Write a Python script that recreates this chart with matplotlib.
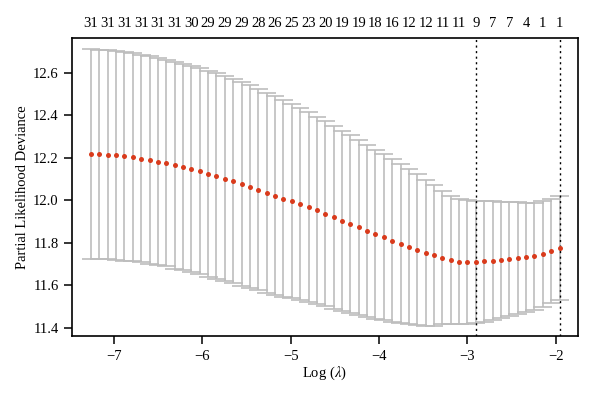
import numpy as np
import matplotlib
matplotlib.use('Agg')
import matplotlib.pyplot as plt

plt.rcParams['font.family'] = ['Liberation Serif', 'DejaVu Serif']
plt.rcParams['mathtext.fontset'] = 'stix'

# log(lambda) grid of the cross-validation
log_lambda = [-7.260, -7.165, -7.071, -6.976, -6.881, -6.787, -6.692, -6.597, -6.502, -6.408,
              -6.313, -6.218, -6.124, -6.029, -5.934, -5.840, -5.745, -5.650, -5.555, -5.461,
              -5.366, -5.271, -5.177, -5.082, -4.987, -4.893, -4.798, -4.703, -4.608, -4.514,
              -4.419, -4.324, -4.230, -4.135, -4.040, -3.946, -3.851, -3.756, -3.661, -3.567,
              -3.472, -3.377, -3.283, -3.188, -3.093, -2.999, -2.904, -2.809, -2.714, -2.620,
              -2.525, -2.430, -2.336, -2.241, -2.146, -2.052, -1.957]

# mean partial likelihood deviance
cvm = [12.218, 12.217, 12.215, 12.212, 12.208, 12.203, 12.197, 12.190, 12.183, 12.175,
       12.166, 12.157, 12.147, 12.137, 12.126, 12.115, 12.103, 12.091, 12.078, 12.065,
       12.051, 12.037, 12.023, 12.009, 11.996, 11.983, 11.968, 11.953, 11.937, 11.921,
       11.905, 11.889, 11.873, 11.857, 11.841, 11.826, 11.811, 11.796, 11.782, 11.768,
       11.754, 11.741, 11.729, 11.719, 11.712, 11.709, 11.709, 11.713, 11.717, 11.721,
       11.725, 11.729, 11.733, 11.737, 11.747, 11.761, 11.776]

# standard error (half width of the bars)
cvsd = [0.493, 0.493, 0.493, 0.492, 0.491, 0.490, 0.489, 0.488, 0.487, 0.486,
        0.487, 0.486, 0.486, 0.485, 0.485, 0.484, 0.483, 0.482, 0.481, 0.478,
        0.475, 0.471, 0.467, 0.462, 0.457, 0.452, 0.447, 0.442, 0.436, 0.430,
        0.424, 0.418, 0.412, 0.405, 0.398, 0.391, 0.383, 0.375, 0.366, 0.355,
        0.343, 0.330, 0.313, 0.303, 0.296, 0.291, 0.288, 0.283, 0.278, 0.273,
        0.268, 0.262, 0.256, 0.252, 0.250, 0.246, 0.245]

# number of nonzero coefficients shown on top (every other lambda)
nz_labels = ['31', '31', '31', '31', '31', '31', '30', '29', '29', '29', '28', '26', '25', '23', '20',
             '19', '19', '18', '16', '12', '12', '11', '11', '9', '7', '7', '4', '1', '1']

lambda_min = log_lambda[46]
lambda_1se = log_lambda[56]

x = np.array(log_lambda)
m = np.array(cvm)
sd = np.array(cvsd)
upper = m + sd
lower = m - sd

fig = plt.figure(figsize=(6, 3.99), dpi=100)
ax = fig.add_axes([0.12, 0.158, 0.843, 0.747])

grey = '#bdbdbd'
barw = (x.max() - x.min()) * 0.02
ax.vlines(x, lower, upper, color=grey, lw=1.2, zorder=1)
ax.hlines(upper, x - barw, x + barw, color=grey, lw=1.2, zorder=1)
ax.hlines(lower, x - barw, x + barw, color=grey, lw=1.2, zorder=1)
ax.plot(x, m, 'o', color='#d93b1c', ms=3.6, mec='none', zorder=3)

ax.axvline(lambda_min, color='black', ls=(0, (1.5, 2.5)), lw=1.0, zorder=2)
ax.axvline(lambda_1se, color='black', ls=(0, (1.5, 2.5)), lw=1.0, zorder=2)

ax.set_xlim(-7.475, -1.75)
ax.set_ylim(11.362, 12.765)
ax.set_xticks([-7, -6, -5, -4, -3, -2])
ax.set_yticks([11.4, 11.6, 11.8, 12.0, 12.2, 12.4, 12.6])
ax.set_yticklabels(['11.4', '11.6', '11.8', '12.0', '12.2', '12.4', '12.6'])
ax.tick_params(direction='out', length=6, width=1.1, labelsize=10.5, color='black')
ax.tick_params(axis='x', pad=4)
for s in ax.spines.values():
    s.set_linewidth(1.2)

ax.set_xlabel(r'Log ($\lambda$)', fontsize=10.5, labelpad=1)
ax.set_ylabel('Partial Likelihood Deviance', fontsize=10.5, labelpad=3)

# top axis with number of variables
top = ax.secondary_xaxis('top')
top.set_xticks(x[::2])
top.set_xticklabels(nz_labels)
top.tick_params(length=0, labelsize=10.5, pad=6)
top.spines['top'].set_visible(False)

fig.savefig('out.png', dpi=100)
